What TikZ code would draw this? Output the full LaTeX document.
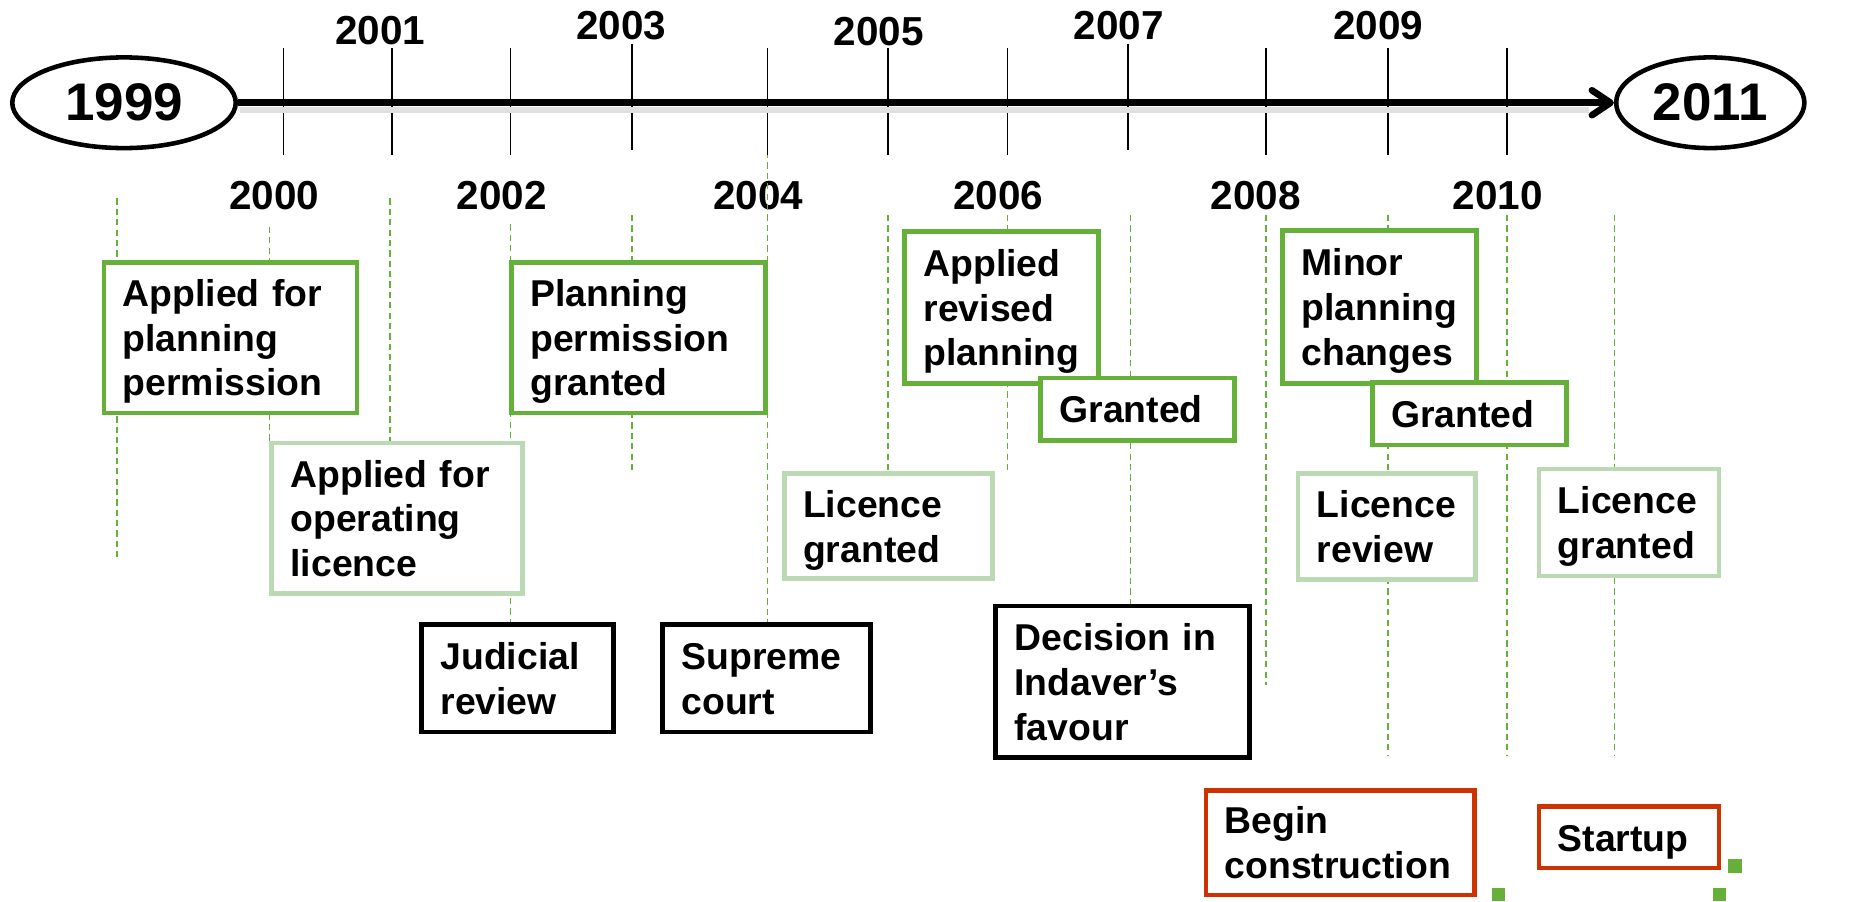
\documentclass[tikz,border=0pt]{standalone}
\usepackage{fontspec}
\setmainfont{Liberation Sans}
\usetikzlibrary{arrows.meta,shapes.geometric}
\hyphenpenalty=10000
\exhyphenpenalty=10000
\definecolor{grn}{RGB}{100,176,56}
\definecolor{lgrn}{RGB}{187,217,178}
\definecolor{rd}{RGB}{204,51,0}
\begin{document}
\begin{tikzpicture}[x=0.02cm,y=-0.02cm,
  ev/.style={draw=#1, line width=2.3pt, fill=white, anchor=north west, align=left,
    inner xsep=9.07pt, inner ysep=0pt, font=\bfseries\fontsize{18}{21.5}\selectfont,
    execute at begin node={\rule{0pt}{17pt}},
    execute at end node={\rule[-3.8pt]{0pt}{3.8pt}}},
  tw/.style={text width=#1},
  mh/.style={minimum height=#1},
  yr/.style={font=\bfseries\fontsize{19.5}{22}\selectfont, inner sep=0pt},
  yrbig/.style={draw, ellipse, line width=2.2pt, inner sep=0pt, minimum height=43.7pt,
    font=\bfseries\fontsize{25.5}{28}\selectfont},
  guide/.style={draw=grn, line width=0.7pt, dash pattern=on 3pt off 2pt},
  tk/.style={line width=0.7pt},
]
\useasboundingbox (0,0) rectangle (1568,763);

% year labels
\node[yr] (l2001) at (322,26) {2001};
\node[yr] (l2003) at (526,22) {2003};
\node[yr] (l2005) at (744,27) {2005};
\node[yr] (l2007) at (947,22) {2007};
\node[yr] (l2009) at (1167,22) {2009};
\node[yr] (l2000) at (232,166) {2000};
\node[yr] (l2002) at (425,166) {2002};
\node[yr] (l2004) at (642,166) {2004};
\node[yr] (l2006) at (845,166) {2006};
\node[yr] (l2008) at (1063,166) {2008};
\node[yr] (l2010) at (1268,166) {2010};

% guide lines
\foreach \x/\a/\b in {99/168/472, 228/192/373, 330/168/380, 432/190/527, 535/182/400,
  650/120/527, 752/182/400, 853/182/400, 957/182/512, 1072/182/580, 1175/182/640,
  1276/182/640, 1367/182/640}
  \draw[guide] (\x,\a) -- (\x,\b);

% ticks
\foreach \x in {240,332,432,650,752,853,1072,1175,1276}
  \draw[tk] (\x,41) -- (\x,131);
\foreach \x in {535,955}
  \draw[tk] (\x,37) -- (\x,127);

% end ellipses
\node[yrbig, minimum width=107.7pt] (e1999) at (105,87) {1999};
\node[yrbig, minimum width=90.7pt] (e2011) at (1448,87) {2011};

% axis
\draw[line width=3pt, black!12] (203,93) -- (1345,93);
\draw[line width=3.2pt, -{Straight Barb[length=9pt,width=12pt,round]}] (e1999) -- (e2011);

% event boxes
\node[ev=grn, tw=103.8pt, mh=72.6pt] (b1) at (86,220) {Applied for\\planning\\permission};
\node[ev=lgrn, tw=102.6pt, mh=72.6pt] (b2) at (228,373) {Applied for\\operating\\licence};
\node[ev=grn, tw=104.3pt, mh=72.6pt] (b3) at (431,220) {Planning\\permission\\granted};
\node[ev=black, tw=74.3pt, mh=51.6pt] (b4) at (355,527) {Judicial\\review};
\node[ev=black, tw=82.2pt, mh=51.6pt] (b5) at (559,527) {Supreme\\court};
\node[ev=lgrn, tw=82.2pt, mh=50.5pt] (b6) at (662,399) {Licence\\granted};
\node[ev=grn, tw=75.2pt, mh=73.1pt] (b7) at (764,194) {Applied\\revised\\planning};
\node[ev=grn, tw=75.4pt, mh=30pt] (b8) at (879,318) {Granted};
\node[ev=black, tw=104.3pt, mh=73.1pt] (b9) at (841,511) {Decision in\\Indaver’s\\favour};
\node[ev=grn, tw=75.2pt, mh=73.7pt] (b10) at (1084,193) {Minor\\planning\\changes};
\node[ev=grn, tw=75.4pt, mh=30pt] (b11) at (1160,322) {Granted};
\node[ev=lgrn, tw=67.5pt, mh=51pt] (b12) at (1097,399) {Licence\\review};
\node[ev=lgrn, tw=68.6pt, mh=51.6pt] (b13) at (1301,395) {Licence\\granted};
\node[ev=rd, tw=111.1pt, mh=50.5pt] (b14) at (1019,667) {Begin\\construction};
\node[ev=rd, tw=68.6pt, mh=29.5pt] (b15) at (1301,681) {Startup};

% selection handles
\fill[grn] (1263,752) rectangle (1274,763);
\fill[grn] (1450,752) rectangle (1461,763);
\fill[grn] (1463,727) rectangle (1475,739);
\end{tikzpicture}
\end{document}
